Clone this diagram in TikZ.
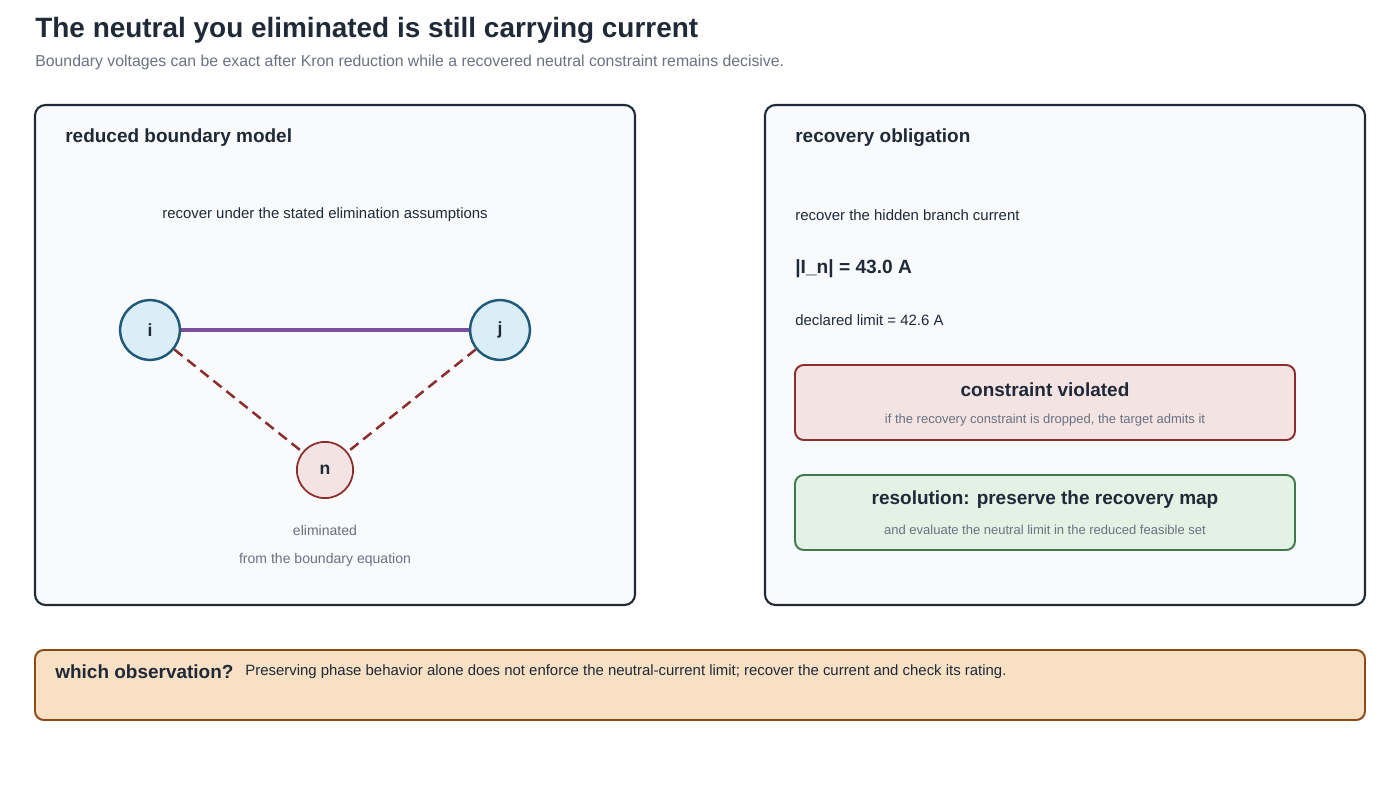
\documentclass[tikz,border=0pt]{standalone}
\usepackage{fontspec}
\setmainfont{Liberation Sans}
\definecolor{ink}{HTML}{1F2937}
\definecolor{muted}{HTML}{6B7280}
\definecolor{panelbg}{HTML}{F8FAFC}
\definecolor{busfill}{HTML}{DBEEF8}
\definecolor{busline}{HTML}{1F5A7A}
\definecolor{redfill}{HTML}{F3E3E3}
\definecolor{redline}{HTML}{8B2E2E}
\definecolor{greenfill}{HTML}{E3F2E5}
\definecolor{greenline}{HTML}{3F7A4F}
\definecolor{orangefill}{HTML}{F8E0C4}
\definecolor{orangeline}{HTML}{8B4A14}
\definecolor{tie}{HTML}{7B4FA0}
\tikzset{
  panel/.style={draw=ink,line width=1.2pt,fill=panelbg,rounded corners=6pt},
  card/.style={line width=1.1pt,rounded corners=5pt},
  bus/.style={circle,draw=busline,fill=busfill,line width=1.4pt,minimum size=34pt,inner sep=0pt,font=\fontsize{10}{12}\selectfont\bfseries,text=ink},
  hidden/.style={circle,draw=redline,fill=redfill,line width=1pt,minimum size=32pt,inner sep=0pt,font=\fontsize{10}{12}\selectfont\bfseries,text=ink},
  heading/.style={anchor=west,inner sep=0pt,font=\fontsize{10.8}{13}\selectfont\bfseries,text=ink},
  body/.style={font=\fontsize{8.5}{10}\selectfont,text=ink},
  note/.style={font=\fontsize{8}{10}\selectfont,text=muted},
  tiny/.style={font=\fontsize{7.4}{9}\selectfont,text=muted},
  cardhead/.style={font=\fontsize{10.8}{13}\selectfont\bfseries,text=ink}
}
\begin{document}
\begin{tikzpicture}[x=0.02cm,y=-0.02cm]
  \useasboundingbox[fill=white] (0,0) rectangle (1400,800);
  % title
  \node[anchor=west,inner sep=0pt,font=\fontsize{15.9}{19}\selectfont\bfseries,text=ink] (title) at (35,30)
    {The neutral you eliminated is still carrying current};
  \node[anchor=west,inner sep=0pt,font=\fontsize{9}{11}\selectfont,text=muted] (subtitle) at (35,62)
    {Boundary voltages can be exact after Kron reduction while a recovered neutral constraint remains decisive.};
  % left panel
  \draw[panel] (35,105) rectangle (635,605);
  \node[heading] (lefthead) at (65,138) {reduced boundary model};
  \node[body] (assume) at (325,215) {recover under the stated elimination assumptions};
  \node[bus] (i) at (150,330) {i};
  \node[bus] (j) at (500,330) {j};
  \node[hidden] (n) at (325,470) {n};
  \draw[tie,line width=2.2pt] (i) -- (j);
  \draw[redline,line width=1.4pt,dash pattern=on 6pt off 3.5pt] (i) -- (n);
  \draw[redline,line width=1.4pt,dash pattern=on 6pt off 3.5pt] (j) -- (n);
  \node[note] (elim) at (325,530) {eliminated};
  \node[note] (elimfrom) at (325,560) {from the boundary equation};
  % right panel
  \draw[panel] (765,105) rectangle (1365,605);
  \node[heading] (righthead) at (795,138) {recovery obligation};
  \node[body,anchor=west,inner sep=0pt] (hidden) at (795,215) {recover the hidden branch current};
  \node[anchor=west,inner sep=0pt,font=\fontsize{10.9}{13}\selectfont\bfseries,text=ink] (current) at (795,269) {|I\_n| = 43.0 A};
  \node[body,anchor=west,inner sep=0pt] (limit) at (795,320) {declared limit = 42.6 A};
  \draw[card,draw=redline,fill=redfill] (795,365) rectangle (1295,440);
  \node[cardhead] (viol) at (1045,390) {constraint violated};
  \node[tiny] (violnote) at (1045,420) {if the recovery constraint is dropped, the target admits it};
  \draw[card,draw=greenline,fill=greenfill] (795,475) rectangle (1295,550);
  \node[cardhead] (resol) at (1045,500) {resolution: preserve the recovery map};
  \node[tiny] (resolnote) at (1045,530) {and evaluate the neutral limit in the reduced feasible set};
  % bottom strip
  \draw[card,draw=orangeline,fill=orangefill] (35,650) rectangle (1365,720);
  \node[heading] (which) at (55,672) {which observation?};
  \node[body,anchor=west,inner sep=0pt] (answer) at (245,672)
    {Preserving phase behavior alone does not enforce the neutral-current limit; recover the current and check its rating.};
\end{tikzpicture}
\end{document}
